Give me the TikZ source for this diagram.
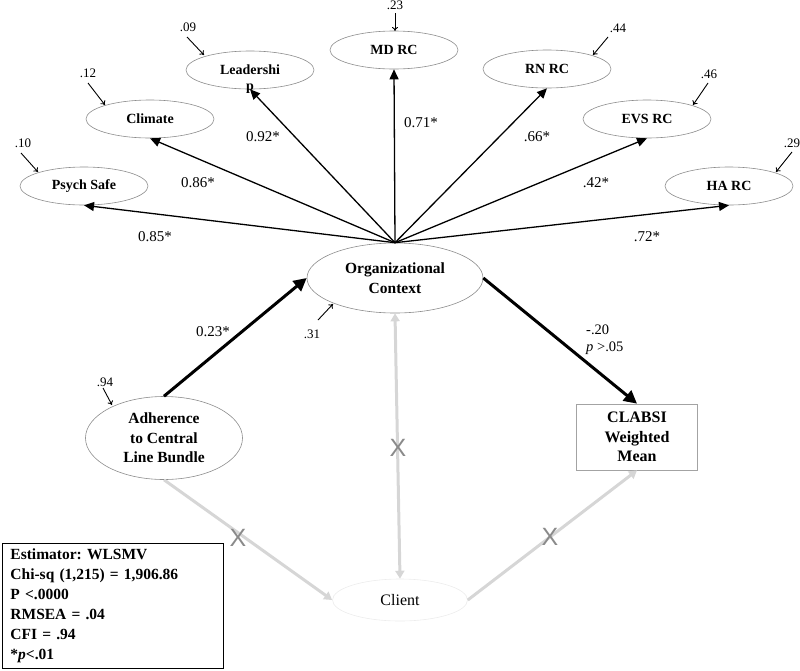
\documentclass[tikz,border=0pt]{standalone}
\usepackage{fontspec}
\setmainfont{Liberation Serif}
\newfontfamily\xfont{Liberation Sans}
\usetikzlibrary{shapes.geometric,arrows.meta}
\definecolor{edgegray}{HTML}{8C8C8C}
\definecolor{fadegray}{HTML}{D6D6D6}
\definecolor{xgray}{HTML}{8A8A8A}
\definecolor{clientgray}{HTML}{ECECEC}
\tikzset{
  ind/.style={ellipse, draw=edgegray, line width=0.6pt, minimum width=128, minimum height=38, inner sep=0pt, font=\fontsize{14}{16}\selectfont\bfseries},
  lat/.style={ellipse, draw=edgegray, line width=0.6pt, inner sep=0pt, align=center, font=\fontsize{15.5}{19.5}\selectfont\bfseries},
  load/.style={line width=1.3pt, -{Triangle[length=10pt,width=9pt]}},
  thick path/.style={line width=3pt, -{Triangle[length=13pt,width=13pt]}},
  fade/.style={fadegray, line width=3pt},
  resid/.style={line width=0.9pt, -{To[length=4pt,width=6pt]}},
  rlab/.style={font=\fontsize{13}{14}\selectfont, inner sep=0pt},
  llab/.style={font=\fontsize{15}{17}\selectfont, inner sep=0pt},
  xmark/.style={text=xgray, font=\xfont\fontsize{25}{25}\selectfont, inner sep=0pt},
}
\begin{document}
\frenchspacing
\begin{tikzpicture}[x=1pt,y=-1pt]
\useasboundingbox (0,0) rectangle (800,670);
% indicators
\node[ind] (ps) at (84,186) {Psych Safe};
\node[ind] (cl) at (150,119) {Climate};
\node[ind] (ld) at (250,70) {Leadershi};
\node[font=\fontsize{14}{16}\selectfont\bfseries, inner sep=0pt] (ldp) at (250,89) {p};
\node[ind] (md) at (394,50) {MD RC};
\node[ind] (rn) at (547,69) {RN RC};
\node[ind] (ev) at (647,119) {EVS RC};
\node[ind] (ha) at (729,186) {HA RC};
% latent and observed
\node[lat, minimum width=176, minimum height=70] (oc) at (395,278) {Organizational\\Context};
\node[lat, minimum width=157, minimum height=83] (ad) at (164,438) {Adherence\\to Central\\Line Bundle};
\node[rectangle, draw=edgegray!80, line width=0.7pt, minimum width=121, minimum height=66, inner sep=0pt, align=center, font=\fontsize{16}{19.5}\selectfont\bfseries] (cb) at (637,437) {CLABSI\\Weighted\\Mean};
\node[ellipse, draw=clientgray, line width=0.6pt, minimum width=135, minimum height=42, inner sep=0pt, font=\fontsize{16}{18}\selectfont] (ci) at (400,600) {Client};
% loadings
\draw[load] (oc.north) -- (ps.south);
\draw[load] (oc.north) -- (cl.south);
\draw[load] (oc.north) -- (ld.south);
\draw[load] (oc.north) -- (md.south);
\draw[load] (oc.north) -- (rn.south);
\draw[load] (oc.north) -- (ev.south);
\draw[load] (oc.north) -- (ha.south);
\node[llab] (l1) at (155,237) {0.85*};
\node[llab] (l2) at (198,183) {0.86*};
\node[llab] (l3) at (263,137) {0.92*};
\node[llab] (l4) at (421,123) {0.71*};
\node[llab] (l5) at (537,137) {.66*};
\node[llab] (l6) at (596,183) {.42*};
\node[llab] (l7) at (647,237) {.72*};
% residuals
\node[rlab] (r1) at (23,143) {.10};
\coordinate (r1s) at (21,153); \coordinate (r1e) at (38,172);
\draw[resid] (r1s) -- (r1e);
\node[rlab] (r2) at (88,73) {.12};
\coordinate (r2s) at (88,83); \coordinate (r2e) at (105,105);
\draw[resid] (r2s) -- (r2e);
\node[rlab] (r3) at (188,27) {.09};
\coordinate (r3s) at (187,37); \coordinate (r3e) at (204,55);
\draw[resid] (r3s) -- (r3e);
\node[rlab] (r4) at (395,5) {.23};
\coordinate (r4s) at (395,13); \coordinate (r4e) at (395,31);
\draw[resid] (r4s) -- (r4e);
\node[rlab] (r5) at (618,28) {.44};
\coordinate (r5s) at (608,37); \coordinate (r5e) at (593,55);
\draw[resid] (r5s) -- (r5e);
\node[rlab] (r6) at (709,74) {.46};
\coordinate (r6s) at (708,83); \coordinate (r6e) at (693,105);
\draw[resid] (r6s) -- (r6e);
\node[rlab] (r7) at (792,143) {.29};
\coordinate (r7s) at (792,152); \coordinate (r7e) at (776,172);
\draw[resid] (r7s) -- (r7e);
\node[rlab] (r8) at (312,334) {.31};
\coordinate (r8s) at (318,320); \coordinate (r8e) at (333,304);
\draw[resid] (r8s) -- (r8e);
\node[rlab] (r9) at (105,382) {.94};
\coordinate (r9s) at (103,388); \coordinate (r9e) at (112,405);
\draw[resid] (r9s) -- (r9e);
% structural paths
\draw[thick path] (ad.north) -- (oc.west);
\node[llab] (p1) at (213,332) {0.23*};
\draw[thick path] (oc.east) -- (cb.north);
\node[llab, align=left, anchor=west, font=\fontsize{14.5}{17}\selectfont] (p2) at (586,340) {-.20\\\textit{p} >.05};
% faded paths
\draw[fade, {Triangle[length=8pt,width=9pt]}-{Triangle[length=8pt,width=9pt]}] (oc.south) -- (ci.north);
\draw[fade, -{Triangle[length=8pt,width=9pt]}] (ad.south) -- (ci.west);
\draw[fade, -{Triangle[length=8pt,width=9pt]}] (ci.east) -- (cb.south);
\node[xmark] (x1) at (398,448) {X};
\node[xmark] (x2) at (238,538) {X};
\node[xmark] (x3) at (550,537) {X};
% fit statistics
\node[draw=black, line width=0.9pt, anchor=north west, minimum width=220, minimum height=125, text width=205, inner xsep=8pt, align=left, font=\fontsize{15.5}{20}\selectfont\bfseries] (fit) at (2,543) {Estimator: WLSMV\\Chi-sq (1,215) = 1,906.86\\P <.0000\\RMSEA = .04\\CFI = .94\\{*}\textit{p}<.01};
\end{tikzpicture}
\end{document}
